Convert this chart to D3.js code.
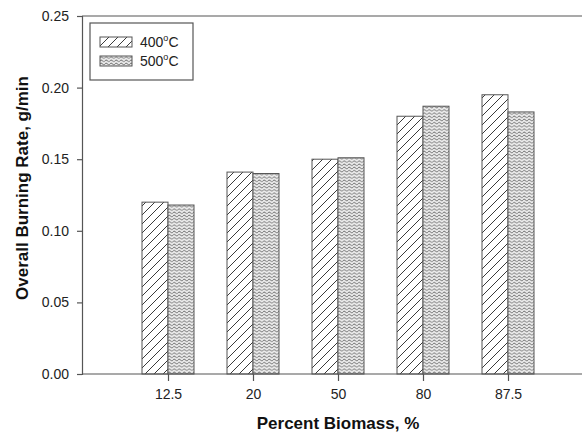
<!DOCTYPE html>
<html>
<head>
<meta charset="utf-8">
<script src="https://cdn.jsdelivr.net/npm/d3@7"></script>
<style>
  body { margin: 0; background: #fff; }
  text { font-family: "Liberation Sans", Arial, sans-serif; }
</style>
</head>
<body>
<script>
'use strict';

// chart data
const biomass = ['12.5', '20', '50', '80', '87.5'];
const series = ['400', '500'];
const rate400 = [0.120, 0.141, 0.150, 0.180, 0.195];
const rate500 = [0.118, 0.140, 0.151, 0.187, 0.183];
const yTicks = [0, 0.05, 0.10, 0.15, 0.20, 0.25];

const W = 583, H = 432;
const margin = { left: 82, top: 16, right: 1, bottom: 58 };

const svg = d3.select('body').append('svg').attr('width', W).attr('height', H);

// fill patterns
const defs = svg.append('defs');
const hatch = defs.append('pattern').attr('id', 'hatch')
  .attr('patternUnits', 'userSpaceOnUse').attr('width', 9).attr('height', 9);
hatch.append('rect').attr('width', 9).attr('height', 9).attr('fill', '#fff');
hatch.append('path').attr('d', 'M0,9 L9,0 M-3,3 L3,-3 M6,12 L12,6')
  .attr('stroke', '#3a3a3a').attr('stroke-width', 1);

const wave = defs.append('pattern').attr('id', 'wave')
  .attr('patternUnits', 'userSpaceOnUse').attr('width', 5).attr('height', 3.2);
wave.append('rect').attr('width', 5).attr('height', 3.2).attr('fill', '#ececec');
wave.append('path').attr('d', 'M0,1.6 Q1.25,0.1 2.5,1.6 T5,1.6')
  .attr('fill', 'none').attr('stroke', '#777').attr('stroke-width', 0.9);

const fills = { '400': 'url(#hatch)', '500': 'url(#wave)' };

const x = d3.scalePoint().domain(biomass).range([168, 508]);
const xs = d3.scaleBand().domain(series).range([-26, 26]);
const y = d3.scaleLinear().domain([0, 0.25]).range([H - margin.bottom, margin.top]);

const rows = biomass.map((b, i) => ({ b: b, vals: [rate400[i], rate500[i]] }));

const groups = svg.append('g').selectAll('g').data(rows).enter().append('g')
  .attr('transform', d => 'translate(' + x(d.b) + ',0)');
groups.selectAll('rect').data(d => d.vals.map((v, j) => ({ s: series[j], v: v })))
  .enter().append('rect')
  .attr('x', d => xs(d.s))
  .attr('width', xs.bandwidth())
  .attr('y', d => y(d.v))
  .attr('height', d => y(0) - y(d.v))
  .attr('fill', d => fills[d.s])
  .attr('stroke', '#555')
  .attr('stroke-width', 1);

// axes
const axisColor = '#555';
const yAxis = svg.append('g').attr('transform', 'translate(' + margin.left + ',0)')
  .call(d3.axisLeft(y).tickValues(yTicks).tickFormat(d3.format('.2f')).tickSize(5).tickPadding(8));
const xAxis = svg.append('g').attr('transform', 'translate(0,' + y(0) + ')')
  .call(d3.axisBottom(x).tickSize(7).tickPadding(8));
xAxis.select('.domain').attr('d', 'M' + margin.left + ',0H' + (W - margin.right));

[xAxis, yAxis].forEach(a => {
  a.select('.domain').attr('stroke', axisColor).attr('stroke-width', 1.2);
  a.selectAll('.tick line').attr('stroke', axisColor).attr('stroke-width', 1.2);
  a.selectAll('.tick text').attr('fill', '#222').style('font-size', '14px')
    .style('font-family', '"Liberation Sans", Arial, sans-serif');
});

// top frame line
svg.append('line').attr('x1', margin.left).attr('x2', W - margin.right)
  .attr('y1', y(0.25)).attr('y2', y(0.25))
  .attr('stroke', axisColor).attr('stroke-width', 1.2);

// axis titles
svg.append('text').attr('transform', 'translate(28,188) rotate(-90)')
  .attr('text-anchor', 'middle').style('font-size', '17px').style('font-weight', 'bold')
  .attr('fill', '#111').text('Overall Burning Rate, g/min');
svg.append('text').attr('x', 338).attr('y', 429)
  .attr('text-anchor', 'middle').style('font-size', '17px').style('font-weight', 'bold')
  .attr('fill', '#111').text('Percent Biomass, %');

// legend
const legend = svg.append('g').attr('transform', 'translate(90,23)');
legend.append('rect').attr('width', 103).attr('height', 57)
  .attr('fill', '#fff').attr('stroke', axisColor).attr('stroke-width', 1.2);
series.forEach((s, i) => {
  const row = legend.append('g').attr('transform', 'translate(10,' + (14 + i * 19) + ')');
  row.append('rect').attr('width', 32).attr('height', 10)
    .attr('fill', fills[s]).attr('stroke', '#555').attr('stroke-width', 1);
  const t = row.append('text').attr('x', 40).attr('y', 10).style('font-size', '14px').attr('fill', '#222');
  t.append('tspan').text(s);
  t.append('tspan').attr('dy', -6).style('font-size', '9px').text('o');
  t.append('tspan').attr('dy', 6).text('C');
});
</script>
</body>
</html>
